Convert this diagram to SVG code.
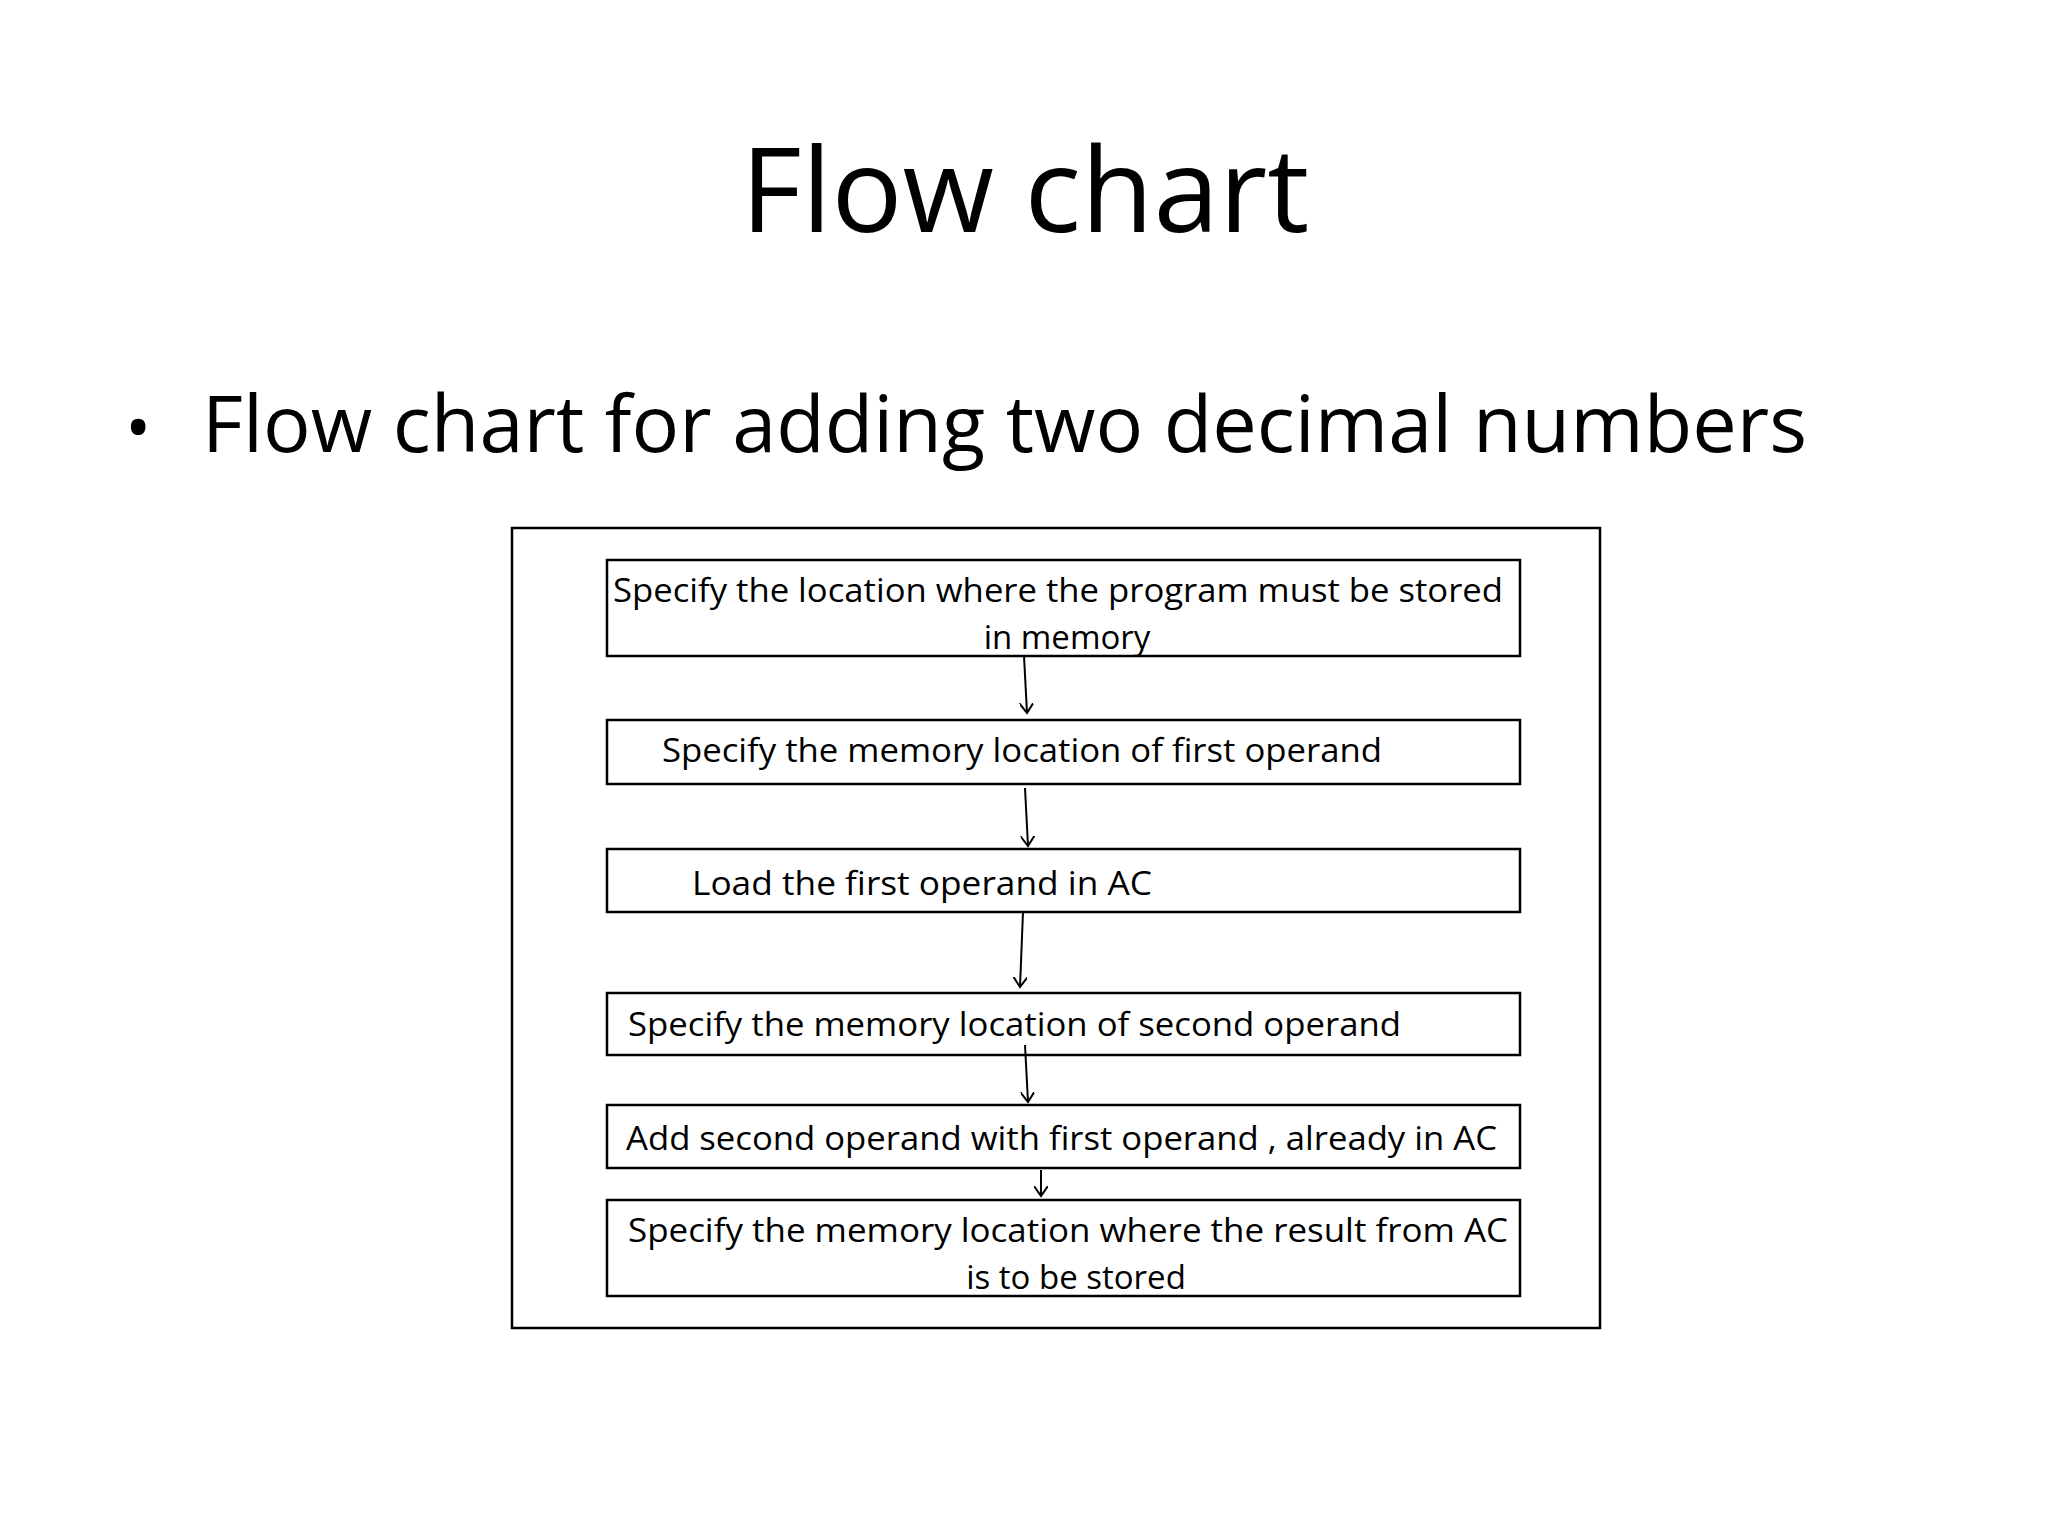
<svg xmlns="http://www.w3.org/2000/svg" width="2048" height="1536" viewBox="0 0 2048 1536">
<style>
.t{font-family:"Open Sans","Liberation Sans",sans-serif;fill:#000}
.b{fill:#fff;stroke:#000;stroke-width:2.5}
.c{stroke:#000;stroke-width:2;fill:none}
.s{font-size:33px}
</style>
<defs><marker id="a" markerWidth="14" markerHeight="14" refX="10" refY="7" orient="auto" markerUnits="userSpaceOnUse"><path d="M0,0 L10,7 L0,14" fill="none" stroke="#000" stroke-width="2"/></marker></defs>
<rect width="2048" height="1536" fill="#fff"/>
<text class="t" x="1025" y="232" font-size="118" text-anchor="middle">Flow chart</text>
<text class="t" x="125" y="452" font-size="70">•</text>
<text class="t" x="202" y="452" font-size="78" textLength="1605" lengthAdjust="spacingAndGlyphs">Flow chart for adding two decimal numbers</text>
<rect x="512" y="528" width="1088" height="800" fill="none" stroke="#000" stroke-width="2.5"/>
<g id="n1"><rect class="b" x="607" y="560" width="913" height="96"/><text class="t s" x="1058" y="602" text-anchor="middle" textLength="890" lengthAdjust="spacingAndGlyphs">Specify the location where the program must be stored</text><text class="t s" x="1067" y="649" text-anchor="middle">in memory</text></g>
<g id="n2"><rect class="b" x="607" y="720" width="913" height="64"/><text class="t s" x="662" y="762" textLength="720" lengthAdjust="spacingAndGlyphs">Specify the memory location of first operand</text></g>
<g id="n3"><rect class="b" x="607" y="849" width="913" height="63"/><text class="t s" x="692" y="895" textLength="460" lengthAdjust="spacingAndGlyphs">Load  the first operand in AC</text></g>
<g id="n4"><rect class="b" x="607" y="993" width="913" height="62"/><text class="t s" x="628" y="1036" textLength="773" lengthAdjust="spacingAndGlyphs">Specify the memory location of second operand</text></g>
<g id="n5"><rect class="b" x="607" y="1105" width="913" height="63"/><text class="t s" x="626" y="1150" textLength="871" lengthAdjust="spacingAndGlyphs">Add second operand with first operand , already in AC</text></g>
<g id="n6"><rect class="b" x="607" y="1200" width="913" height="96"/><text class="t s" x="628" y="1242" textLength="880" lengthAdjust="spacingAndGlyphs">Specify the memory location where the result from AC</text><text class="t s" x="1076" y="1289" text-anchor="middle">is to be stored</text></g>
<g id="edges">
<line class="c" x1="1024" y1="656" x2="1027" y2="713" marker-end="url(#a)"/>
<line class="c" x1="1025" y1="788" x2="1028" y2="846" marker-end="url(#a)"/>
<line class="c" x1="1023" y1="912" x2="1020" y2="987" marker-end="url(#a)"/>
<line class="c" x1="1025" y1="1045" x2="1028" y2="1102" marker-end="url(#a)"/>
<line class="c" x1="1041" y1="1170" x2="1041" y2="1196" marker-end="url(#a)"/>
</g>
</svg>
